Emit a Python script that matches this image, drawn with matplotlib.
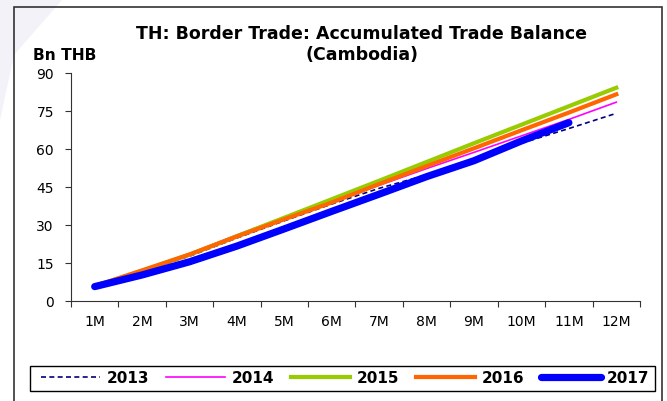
import matplotlib
matplotlib.use("Agg")
import matplotlib.pyplot as plt
from matplotlib.patches import Rectangle, Polygon

plt.rcParams['font.family'] = ['DejaVu Sans']

months = ["1M", "2M", "3M", "4M", "5M", "6M", "7M", "8M", "9M", "10M", "11M", "12M"]
y2013 = [6.0, 11.8, 17.8, 25.0, 31.8, 38.4, 44.6, 49.9, 56.0, 62.4, 68.2, 74.2]
y2014 = [6.1, 12.3, 18.8, 26.2, 33.2, 39.3, 45.8, 52.4, 58.8, 65.3, 71.8, 78.6]
y2015 = [6.0, 12.1, 18.4, 25.7, 33.0, 40.3, 47.6, 55.0, 62.4, 69.7, 77.0, 84.3]
y2016 = [6.0, 12.2, 18.5, 25.6, 32.4, 39.0, 46.3, 53.4, 60.4, 67.5, 74.5, 81.7]
y2017 = [5.8, 10.4, 15.6, 21.8, 28.6, 35.5, 42.3, 49.2, 55.5, 63.3, 70.5]
yticks = [0, 15, 30, 45, 60, 75, 90]

W, H = 667, 401
fig = plt.figure(figsize=(W / 100, H / 100), dpi=100)


def fx(px):
    return px / W


def fy(py):
    return 1 - py / H


# faint decorative swoosh in the top-left corner
swoosh = Polygon([[0, 1], [fx(62), 1], [fx(14), fy(55)], [0, fy(120)]],
                 closed=True, transform=fig.transFigure, facecolor='#F2F2F8',
                 edgecolor='none', zorder=0)
fig.patches.append(swoosh)

# outer frame around the chart
fig.patches.append(Rectangle((fx(14), -0.05), fx(662 - 14), 1.05 - 7.5 / H,
                             transform=fig.transFigure, fill=False,
                             edgecolor='#333333', linewidth=1.2, zorder=1))

ax = fig.add_axes([fx(71), fy(301.3), fx(640 - 71), (301.3 - 73.3) / H])

x = list(range(len(months)))
ax.plot(x, y2013, color='#000080', lw=1.2, linestyle=(0, (3, 2)), label='2013')
ax.plot(x, y2014, color='#FF00FF', lw=1.2, label='2014')
ax.plot(x, y2015, color='#99CC00', lw=3.0, label='2015')
ax.plot(x, y2016, color='#FF6600', lw=3.0, label='2016')
ax.plot(x[:len(y2017)], y2017, color='#0000FF', lw=5.2, label='2017',
        solid_capstyle='round')

ax.set_xlim(-0.5, len(months) - 0.5)
ax.set_ylim(0, 90)
ax.set_yticks(yticks)
ax.set_yticklabels([str(v) for v in yticks], fontsize=10)

# tick marks at category boundaries, labels centred in each category
ax.set_xticks([i - 0.5 for i in range(len(months) + 1)])
ax.set_xticklabels([])
ax.set_xticks(x, minor=True)
ax.set_xticklabels(months, minor=True, fontsize=10)
ax.tick_params(axis='x', which='major', direction='out', length=4.3, width=0.8,
               color='#333333')
ax.tick_params(axis='x', which='minor', length=0, pad=10)
ax.tick_params(axis='y', direction='out', length=4.3, width=0.8, pad=8,
               color='#333333')

for side in ('top', 'right'):
    ax.spines[side].set_visible(False)
for side in ('left', 'bottom'):
    ax.spines[side].set_color('#333333')
    ax.spines[side].set_linewidth(0.8)

fig.text(fx(362), fy(34), "TH: Border Trade: Accumulated Trade Balance",
         ha='center', va='center', fontsize=12.5, fontweight='bold')
fig.text(fx(362), fy(55), "(Cambodia)",
         ha='center', va='center', fontsize=12.5, fontweight='bold')
fig.text(fx(33), fy(55), "Bn THB", ha='left', va='center',
         fontsize=11.2, fontweight='bold')

# legend box drawn as its own rectangle, entries centred inside it
fig.patches.append(Rectangle((fx(30), fy(390.7)), fx(655 - 30), (390.7 - 365.7) / H,
                             transform=fig.transFigure, fill=False,
                             edgecolor='#000000', linewidth=1.0, zorder=2))
handles, labels = ax.get_legend_handles_labels()
leg = fig.legend(handles, labels, loc='center', ncol=5,
                 bbox_to_anchor=(fx(345), fy(378.2)),
                 prop={'weight': 'bold', 'size': 11},
                 frameon=False, handlelength=3.9, handletextpad=0.4,
                 columnspacing=1.1, borderpad=0, borderaxespad=0)

fig.savefig("out.png", dpi=100)
